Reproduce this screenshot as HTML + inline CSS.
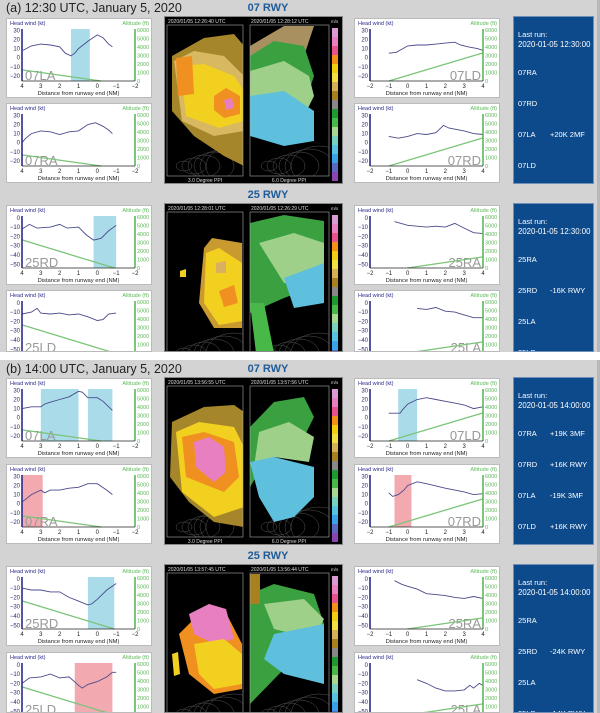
<!DOCTYPE html>
<html style="width:600px;height:713px;overflow:hidden"><head><meta charset="utf-8">
<style>
html,body{margin:0;padding:0;}
body{width:600px;height:713px;background:#d3d3d3;position:relative;overflow:hidden;font-family:"Liberation Sans",sans-serif;}
.abs{position:absolute;}
.title{font-size:12.5px;color:#222;white-space:nowrap;}
.rwy{font-size:11px;font-weight:bold;color:#1f5c99;white-space:nowrap;transform:translateX(-50%);}
.panel{background:#fff;border:1px solid #bbb;box-sizing:border-box;}
.blue{background:#0d4a8b;color:#fff;font-size:7.5px;border:1px solid #6d8fb8;box-sizing:border-box;}
.blue div{position:absolute;white-space:nowrap;}
</style></head>
<body>
<div class="abs" style="left:0;top:352px;width:600px;height:8px;background:#fff"></div>
<div class="abs" style="left:597px;top:0;width:3px;height:352px;background:#b8b8b8"></div>
<div class="abs" style="left:597px;top:360px;width:3px;height:353px;background:#b8b8b8"></div>
<div id="root"></div>
<script>
// ---- data: distance (NM) and head wind (kt) per panel ----
const xA07LA=[3.95,3.5,3.0,2.5,2.0,1.7,1.4,1.2,1.0,0.5,0.0,-0.3,-0.6,-0.8];
const yA07LA=[8,13,15,14,12,5,2,5,10,18,25,22,15,12];
const xA07RA=[4,3.8,3.5,3.0,2.5,2.0,1.5,1.0,0.5,0.1,-0.3,-0.6,-0.8];
const yA07RA=[0,5,10,13,12,9,12,13,20,22,18,14,10];
const xA07LD=[-1,-0.6,0,0.5,1,1.5,2,2.5,2.8,3.2,3.7,4];
const yA07LD=[5,6,13,14,14,15,16,17,14,12,10,8];
const xA07RD=[-1,-0.5,0,0.5,1,1.5,1.9,2.2,3,3.5,4];
const yA07RD=[7,5,7,10,9,11,19,16,13,10,9];
const xA25RD=[4,3.6,3.2,2.5,2,1.6,1,0.6,0.2,-0.2,-0.6,-1];
const yA25RD=[-12,-7,-11,-10,-7,-11,-10,-18,-24,-22,-14,-8];
const xA25LD=[4,3.5,3.2,3,2.5,2,1.5,1,0.5,0,-0.3,-0.6,-1];
const yA25LD=[-12,-10,-6,-11,-12,-11,-13,-12,-15,-19,-18,-12,-11];
const xA25RA=[-0.7,0,1,1.5,2,2.5,3,3.5,4];
const yA25RA=[-4,-8,-10,-9,-10,-6,-11,-16,-17];
const xA25LA=[0.5,1,1.5,2,2.5,3,3.5,4];
const yA25LA=[-6,-7,-5,-9,-10,-13,-16,-16];
const xB07LA=[4,3.5,3,2.8,2.5,2,1.5,1.0,0.8,0.5,0,-0.3,-0.8];
const yB07LA=[10,12,12,15,17,20,23,29,28,22,22,18,8];
const xB07RA=[4,3.8,3.5,3,2.8,2.5,2,1.5,1,0.5,0,-0.5,-0.8];
const yB07RA=[2,5,10,15,12,15,15,17,18,22,22,15,10];
const xB07LD=[-1,-0.4,-0.3,0,0.5,1,1.5,2,2.5,3,3.5,4];
const yB07LD=[5,5,8,15,20,22,20,18,16,14,10,12];
const xB07RD=[-1,-0.8,-0.5,-0.2,0,0.5,1,2,3,3.5,4];
const yB07RD=[12,8,10,15,20,24,22,17,13,10,11];
const xB25RD=[4,3.5,3,2.5,2,1.5,1,0.5,0.3,0,-0.5,-1];
const yB25RD=[-10,-12,-12,-14,-14,-20,-24,-28,-27,-22,-12,-5];
const xB25LD=[4,3.6,3,2.5,2,1.5,1,0.8,0.5,0,-0.5,-0.8,-1];
const yB25LD=[-20,-14,-13,-10,-14,-13,-22,-25,-21,-18,-13,-8,-8];
const xB25RA=[-0.7,-0.3,0,0.5,1,1.5,2,2.5,3,3.5,4];
const yB25RA=[-2,-6,-8,-11,-16,-17,-18,-20,-21,-19,-21];
const xB25LA=[0.5,1,1.5,2,2.5,3,3.3,3.5,3.8,4];
const yB25LA=[-16,-20,-25,-28,-28,-27,-22,-25,-20,-22];
const ktTicks07=[30,20,10,0,-10,-20];
const ktTicks25=[0,-10,-20,-30,-40,-50];
const altTicks=[6000,5000,4000,3000,2000,1000,0];
const distTicksL=[4,3,2,1,0,-1,-2];
const distTicksR=[-2,-1,0,1,2,3,4];

const NS='http://www.w3.org/2000/svg';
const root=document.getElementById('root');
function svgEl(tag,attrs,parent){const e=document.createElementNS(NS,tag);for(const k in attrs)e.setAttribute(k,attrs[k]);if(parent)parent.appendChild(e);return e;}

function panel(left,top,hgt,side,rwy,label,xs,ys,shades,alt0,alt1,altX0,altX1){
  const d=document.createElement('div');
  d.className='abs panel';d.style.left=left+'px';d.style.top=top+'px';d.style.width='146px';d.style.height=hgt+'px';d.style.overflow='hidden';
  
  
  root.appendChild(d);
  const s=svgEl('svg',{width:146,height:80,style:'position:absolute;left:0;top:0;font-family:Liberation Sans,sans-serif'},d);
  const L=15,R=128,T=10,B=62;
  const xmin=side==='L'?4:-2, xmax=side==='L'?-2:4;
  const xS=v=>L+(v-xmin)/(xmax-xmin)*(R-L);
  const kmin=rwy==='07'?-25.5:-54, kmax=rwy==='07'?31.5:2;
  const yS=v=>B-(v-kmin)/(kmax-kmin)*(B-T);
  const aS=v=>B-v/6100*(B-T);
  shades.forEach(sh=>{const r=svgEl('rect',{x:Math.min(xS(sh[0]),xS(sh[1])),y:T,width:Math.abs(xS(sh[1])-xS(sh[0])),height:B-T,fill:sh[2]},s);
    });
  const lb=svgEl('text',{x:side==='L'?L+3:R-2,y:B-1,'font-size':13,fill:'#999','text-anchor':side==='L'?'start':'end'},s);lb.textContent=label;
  
  const al=svgEl('line',{x1:xS(altX0),y1:aS(alt0),x2:xS(altX1),y2:aS(alt1),stroke:'#7cc47a','stroke-width':1.3},s);
  
  const pts=xs.map((x,i)=>xS(x).toFixed(1)+','+yS(ys[i]).toFixed(1)).join(' ');
  const pl=svgEl('polyline',{points:pts,fill:'none',stroke:'#4a4a8c','stroke-width':0.9},s);
  
  svgEl('line',{x1:L,y1:T,x2:L,y2:B,stroke:'#2a2a8a','stroke-width':1.6},s);
  svgEl('line',{x1:R,y1:T,x2:R,y2:B,stroke:'#5cb85a','stroke-width':1.6},s);
  svgEl('line',{x1:L,y1:B,x2:R,y2:B,stroke:'#222','stroke-width':0.8},s);
  (rwy==='07'?ktTicks07:ktTicks25).forEach(v=>{const t=svgEl('text',{x:L-2,y:yS(v)+2,'font-size':6,fill:'#2a2a6a','text-anchor':'end'},s);t.textContent=v<0?'\u2212'+(-v):v;});
  altTicks.forEach(v=>{const t=svgEl('text',{x:R+2,y:aS(v)+2,'font-size':5.5,fill:'#5cb85a'},s);t.textContent=v;});
  (side==='L'?distTicksL:distTicksR).forEach(v=>{const t=svgEl('text',{x:xS(v),y:69,'font-size':6,fill:'#222','text-anchor':'middle'},s);t.textContent=v<0?'\u2212'+(-v):v;});
  const xl=svgEl('text',{x:(L+R)/2,y:76,'font-size':5.8,fill:'#222','text-anchor':'middle'},s);xl.textContent='Distance from runway end (NM)';
  const h1=svgEl('text',{x:3,y:6,'font-size':5.5,fill:'#2a2a8a'},s);h1.textContent='Head wind (kt)';
  const h2=svgEl('text',{x:142,y:6,'font-size':5.5,fill:'#5cb85a','text-anchor':'end'},s);h2.textContent='Altitude (ft)';
}

function radar(left,top,hgt,t1,t2,blobsL,blobsR){
  const d=document.createElement('div');
  d.className='abs';d.style.left=left+'px';d.style.top=top+'px';d.style.width='179px';d.style.height=hgt+'px';d.style.overflow='hidden';d.style.background='#000';d.style.border='1px solid #888';d.style.boxSizing='border-box';
  
  
  root.appendChild(d);
  const s=svgEl('svg',{width:179,height:168,style:'position:absolute;left:-1px;top:-1px;font-family:Liberation Sans,sans-serif'},d);
  const cl=svgEl('clipPath',{id:'c'+left+top},s);svgEl('rect',{x:3,y:9,width:76,height:151},cl);
  const cr=svgEl('clipPath',{id:'d'+left+top},s);svgEl('rect',{x:86,y:9,width:79,height:151},cr);
  const gl=svgEl('g',{'clip-path':'url(#c'+left+top+')'},s);
  const gr=svgEl('g',{'clip-path':'url(#d'+left+top+')'},s);
  // faint terrain contour texture
  for(let i=0;i<6;i++){svgEl('ellipse',{cx:20+i*10,cy:150,rx:8+i*4,ry:5+i*3,fill:'none',stroke:'#555','stroke-width':0.5},gl);
    svgEl('ellipse',{cx:105+i*10,cy:150,rx:8+i*4,ry:5+i*3,fill:'none',stroke:'#555','stroke-width':0.5},gr);}
  blobsL.forEach(b=>svgEl('polygon',{points:b[0],fill:b[1]},gl));
  blobsR.forEach(b=>svgEl('polygon',{points:b[0],fill:b[1]},gr));
  svgEl('rect',{x:3,y:9,width:76,height:151,fill:'none',stroke:'#aaa','stroke-width':0.6},s);
  svgEl('rect',{x:86,y:9,width:79,height:151,fill:'none',stroke:'#aaa','stroke-width':0.6},s);
  const cols=['#d99ad6','#e77fc0','#e8508e','#f29018','#f2ce10','#f2e040','#d6b058','#a8801e','#888','#1e9a30','#48b848','#a8d890','#78d0c0','#58c0e0','#3aa0e8','#5a68c0','#8a44b0'];
  cols.forEach((c,i)=>svgEl('rect',{x:168,y:12+i*9,width:6,height:9,fill:c},s));
  const a=svgEl('text',{x:4,y:7,'font-size':5,fill:'#ddd'},s);a.textContent='2020/01/05    '+t1+' UTC';
  const b=svgEl('text',{x:87,y:7,'font-size':5,fill:'#ddd'},s);b.textContent='2020/01/05    '+t2+' UTC';
  const u=svgEl('text',{x:167,y:7,'font-size':4.5,fill:'#ddd'},s);u.textContent='m/s';
  const c1=svgEl('text',{x:41,y:166,'font-size':5,fill:'#ddd','text-anchor':'middle'},s);c1.textContent='3.0 Degree PPI';
  const c2=svgEl('text',{x:125,y:166,'font-size':5,fill:'#ddd','text-anchor':'middle'},s);c2.textContent='6.0 Degree PPI';
}

function bluebox(left,top,hgt,time,rows){
  const d=document.createElement('div');
  d.className='abs blue';d.style.left=left+'px';d.style.top=top+'px';d.style.width='81px';d.style.height=hgt+'px';d.style.overflow='hidden';
  
  
  let h='<div style="left:4px;top:13px">Last run:</div><div style="left:4px;top:23px;font-size:7.8px">'+time+'</div>';
  rows.forEach((r,i)=>{h+='<div style="left:4px;top:'+(51+i*31)+'px">'+r[0]+'</div><div style="left:36px;top:'+(51+i*31)+'px">'+r[1]+'</div>';});
  d.innerHTML=h;root.appendChild(d);
}
function txt(cls,left,top,s,name){const d=document.createElement('div');d.className='abs '+cls;d.style.left=left+'px';d.style.top=top+'px';d.textContent=s;
  root.appendChild(d);}

const BLUE='#a9dbe8',PINK='#f2aab0';
const L07a=[['8,40 40,22 70,18 80,30 80,150 60,140 30,120 8,95','#a5862a'],['10,45 30,35 60,40 80,60 80,115 50,120 18,105','#d8b860'],['16,50 40,48 70,60 80,75 80,105 55,112 22,100','#f2d020'],['12,42 28,40 30,78 14,80','#ef9020'],['50,80 62,72 76,80 76,98 60,102 50,94','#ef9020'],['60,84 68,82 70,92 62,94','#e77fc0']];
const R07a=[['86,30 120,10 150,10 140,40 120,60 86,70','#a89060'],['86,40 110,25 140,30 150,60 140,90 86,85','#3aa040'],['86,55 120,45 145,60 150,80 140,100 86,95','#9ed08a'],['86,80 120,75 150,95 150,125 120,130 86,120','#5ec0dc']];
const L25a=[['40,45 48,35 78,40 78,125 50,125 35,100','#c89a30'],['42,50 55,45 78,60 78,118 55,122 40,100','#f2d020'],['52,60 62,58 62,70 52,70','#d8b060'],['55,88 70,82 74,100 60,104','#ef9020'],['16,68 22,66 22,74 16,74','#f2d020']];
const R25a=[['86,20 120,12 160,18 160,80 120,95 86,110','#3aa040'],['95,40 130,30 160,40 160,80 120,80','#9ed08a'],['120,75 160,60 160,100 130,105','#5ec0dc'],['86,100 100,100 110,150 92,150','#48b848']];
const L07b=[['8,45 40,30 70,28 80,35 80,150 50,145 25,125 6,100','#a5862a'],['12,55 35,45 70,50 80,70 80,130 50,140 18,115','#f2d020'],['18,60 40,55 70,65 75,100 60,115 22,100','#ef9020'],['30,65 45,60 60,70 62,95 50,105 32,90','#e77fc0']];
const R07b=[['86,50 110,25 140,20 150,40 140,60 110,70 86,110','#3aa040'],['95,55 125,45 150,60 145,85 110,80 90,90','#9ed08a'],['86,85 110,80 150,90 150,120 130,140 110,145 95,120','#5ec0dc']];
const L25b=[['15,70 45,40 60,45 78,80 78,125 50,130 25,110','#ef9020'],['25,50 45,40 62,45 70,75 50,80 30,70','#e77fc0'],['30,80 60,75 78,90 78,120 50,125 35,110','#f2d020'],['8,90 14,88 16,110 10,112','#f2d020']];
const R25b=[['86,30 110,20 150,30 160,60 160,110 120,105 86,140','#3aa040'],['100,40 140,35 160,55 150,75 110,65','#9ed08a'],['110,70 160,60 160,120 120,110 100,95','#5ec0dc'],['86,10 96,10 96,40 86,40','#a8801e']];

txt('title',6,1,'(a) 12:30 UTC, January 5, 2020','section-a-title');
txt('rwy',268,2,'07 RWY','section-a-07-header');
panel(6,18,80,'L','07','07LA',xA07LA,yA07LA,[[1.4,0.4,BLUE]],1300,0,4,-0.2);
panel(6,103,80,'L','07','07RA',xA07RA,yA07RA,[],1300,0,4,-0.2);
radar(164,16,168,'12:26:40','12:28:12',L07a,R07a);
panel(354,18,80,'R','07','07LD',xA07LD,yA07LD,[],0,3300,-1,4);
panel(354,103,80,'R','07','07RD',xA07RD,yA07RD,[],0,3300,-1,4);
bluebox(513,16,168,'2020-01-05 12:30:00',[['07RA',''],['07RD',''],['07LA','+20K 2MF'],['07LD','']]);
txt('rwy',268,189,'25 RWY','section-a-25-header');
panel(6,205,80,'L','25','25RD',xA25RD,yA25RD,[[0.2,-1,BLUE]],3300,0,4,-0.9);
panel(6,290,62,'L','25','25LD',xA25LD,yA25LD,[],3300,0,4,-0.9);
radar(164,203,149,'12:28:01','12:26:29',L25a,R25a);
panel(354,205,80,'R','25','25RA',xA25RA,yA25RA,[],0,1300,0,4);
panel(354,290,62,'R','25','25LA',xA25LA,yA25LA,[],0,1300,0,4);
bluebox(513,203,149,'2020-01-05 12:30:00',[['25RA',''],['25RD','-16K RWY'],['25LA',''],['25LD','']]);
txt('title',6,362,'(b) 14:00 UTC, January 5, 2020','section-b-title');
txt('rwy',268,363,'07 RWY','section-b-07-header');
panel(6,378,80,'L','07','07LA',xB07LA,yB07LA,[[3,1,BLUE],[0.5,-0.8,BLUE]],1300,0,4,-0.2);
panel(6,464,80,'L','07','07RA',xB07RA,yB07RA,[[4,2.9,PINK]],1300,0,4,-0.2);
radar(164,377,168,'13:56:55','13:57:56',L07b,R07b);
panel(354,378,80,'R','07','07LD',xB07LD,yB07LD,[[-0.5,0.5,BLUE]],0,3300,-1,4);
panel(354,464,80,'R','07','07RD',xB07RD,yB07RD,[[-0.7,0.2,PINK]],0,3300,-1,4);
bluebox(513,377,168,'2020-01-05 14:00:00',[['07RA','+19K 3MF'],['07RD','+16K RWY'],['07LA','-19K 3MF'],['07LD','+16K RWY']]);
txt('rwy',268,550,'25 RWY','section-b-25-header');
panel(6,566,80,'L','25','25RD',xB25RD,yB25RD,[[0.5,-0.9,BLUE]],3300,0,4,-0.9);
panel(6,652,61,'L','25','25LD',xB25LD,yB25LD,[[1.2,-0.8,PINK]],3300,0,4,-0.9);
radar(164,564,149,'13:57:45','13:56:44',L25b,R25b);
panel(354,566,80,'R','25','25RA',xB25RA,yB25RA,[],0,1300,0,4);
panel(354,652,61,'R','25','25LA',xB25LA,yB25LA,[],0,1300,0,4);
bluebox(513,564,149,'2020-01-05 14:00:00',[['25RA',''],['25RD','-24K RWY'],['25LA',''],['25LD','-14K RWY']]);
</script>
</body></html>
